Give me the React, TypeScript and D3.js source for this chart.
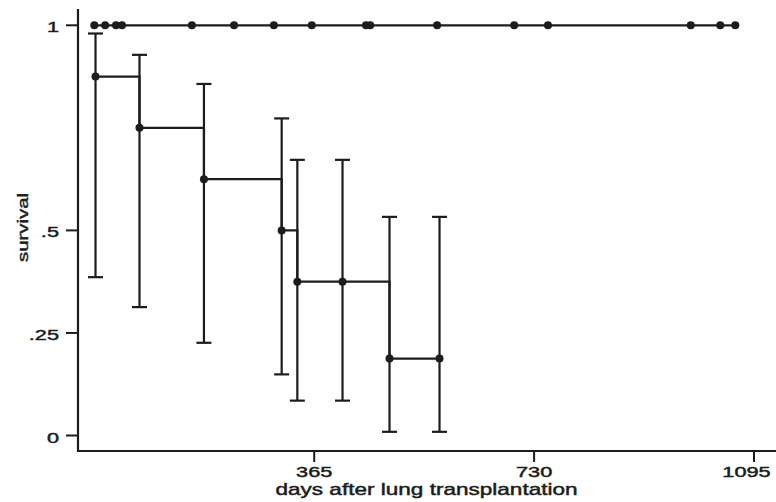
import React from "react";
import * as d3 from "d3";

// Group without events (survival stays at 1): days of observations
const censoredDays = [0, 18, 36, 46, 162, 232, 298, 361, 451, 458, 569, 697, 753, 990, 1039, 1064];
const censoredSurv = censoredDays.map(() => 1);

// Group with events: Kaplan–Meier estimates with 95% CI
const eventDays = [2, 75, 182, 311, 337, 412, 490, 573];
const eventSurv = [0.875, 0.75, 0.625, 0.5, 0.375, 0.375, 0.1875, 0.1875];
const ciUpper = [0.98, 0.928, 0.857, 0.773, 0.672, 0.672, 0.533, 0.533];
const ciLower = [0.386, 0.313, 0.226, 0.149, 0.085, 0.085, 0.009, 0.009];

const xTicks = [365, 730, 1095];
const xTickLabels = ["365", "730", "1095"];
const yTicks = [0, 0.25, 0.5, 1];
const yTickLabels = ["0", ".25", ".5", "1"];

const W = 776;
const H = 502;
const INK = "#1c1c1c";
const FONT = "'Liberation Sans', Arial, Helvetica, sans-serif";

export default function App() {
  const x = d3.scaleLinear().domain([0, 1095]).range([94.3, 754]);
  const y = d3.scaleLinear().domain([0, 1]).range([435.5, 25.3]);

  const axisX = 78;
  const axisY = 451;

  const line = d3
    .line<[number, number]>()
    .x((d) => x(d[0]))
    .y((d) => y(d[1]))
    .curve(d3.curveStepAfter);

  const upperPts: [number, number][] = censoredDays.map((d, i) => [d, censoredSurv[i]]);
  const lowerPts: [number, number][] = eventDays.map((d, i) => [d, eventSurv[i]]);

  const capW = 7.5;
  const textStroke = { stroke: INK, strokeWidth: 0.45 };

  return (
    <svg
      width={W}
      height={H}
      style={{ position: "absolute", left: 0, top: 0, background: "#fff" }}
    >
      <rect x={0} y={0} width={W} height={H} fill="#fff" />
      {/* axes */}
      <line x1={axisX} x2={axisX} y1={9} y2={axisY + 1} stroke={INK} strokeWidth={2.2} />
      <line x1={axisX - 1} x2={W} y1={axisY} y2={axisY} stroke={INK} strokeWidth={2.2} />

      {/* y ticks */}
      {yTicks.map((t, i) => (
        <g key={"yt" + i}>
          <line x1={66} x2={axisX} y1={y(t)} y2={y(t)} stroke={INK} strokeWidth={2} />
          <text
            transform={`translate(59,${y(t) + 7}) scale(1.45,1)`}
            textAnchor="end"
            fontFamily={FONT}
            fontSize={15}
            fill={INK}
            {...textStroke}
          >
            {yTickLabels[i]}
          </text>
        </g>
      ))}

      {/* x ticks */}
      {xTicks.map((t, i) => (
        <g key={"xt" + i}>
          <line x1={x(t)} x2={x(t)} y1={axisY} y2={axisY + 11} stroke={INK} strokeWidth={2} />
          <text
            transform={`translate(${Math.min(x(t), 746.5)},477) scale(1.45,1)`}
            textAnchor="middle"
            fontFamily={FONT}
            fontSize={15}
            fill={INK}
            {...textStroke}
          >
            {xTickLabels[i]}
          </text>
        </g>
      ))}

      {/* axis titles */}
      <text
        transform="translate(426.5,494.5) scale(1.41,1)"
        textAnchor="middle"
        fontFamily={FONT}
        fontSize={16}
        fill={INK}
        {...textStroke}
      >
        days after lung transplantation
      </text>
      <text
        transform="translate(28,227.5) rotate(-90)"
        textAnchor="middle"
        fontFamily={FONT}
        fontSize={15.5}
        textLength={69}
        lengthAdjust="spacingAndGlyphs"
        fill={INK}
        {...textStroke}
      >
        survival
      </text>

      {/* upper group */}
      <path d={line(upperPts) || ""} fill="none" stroke={INK} strokeWidth={2.2} />
      {upperPts.map((p, i) => (
        <circle key={"u" + i} cx={x(p[0])} cy={y(p[1])} r={4} fill={INK} />
      ))}

      {/* lower group: CI bars */}
      {eventDays.map((d, i) => {
        const cx = x(d);
        return (
          <g key={"ci" + i} stroke={INK} strokeWidth={2.2}>
            <line x1={cx} x2={cx} y1={y(ciUpper[i])} y2={y(ciLower[i])} />
            <line x1={cx - capW} x2={cx + capW} y1={y(ciUpper[i])} y2={y(ciUpper[i])} />
            <line x1={cx - capW} x2={cx + capW} y1={y(ciLower[i])} y2={y(ciLower[i])} />
          </g>
        );
      })}
      <path d={line(lowerPts) || ""} fill="none" stroke={INK} strokeWidth={2.2} />
      {lowerPts.map((p, i) => (
        <circle key={"l" + i} cx={x(p[0])} cy={y(p[1])} r={4} fill={INK} />
      ))}
    </svg>
  );
}
